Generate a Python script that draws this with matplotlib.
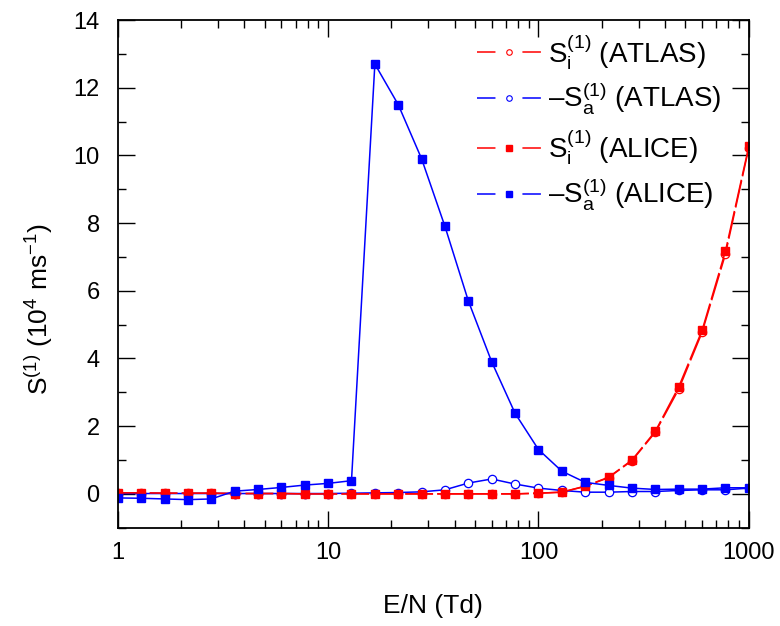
import numpy as np
import matplotlib
matplotlib.use('Agg')
import matplotlib.pyplot as plt
from matplotlib.lines import Line2D

plt.rcParams['font.family'] = ['Liberation Sans', 'DejaVu Sans']
plt.rcParams['mathtext.fontset'] = 'custom'
plt.rcParams['mathtext.rm'] = 'Liberation Sans'
plt.rcParams['mathtext.it'] = 'Liberation Sans'
plt.rcParams['mathtext.default'] = 'regular'
plt.rcParams['lines.scale_dashes'] = False

# E/N grid, 9 points per decade
en = 10 ** (np.arange(28) / 9.0)

si_atlas = [0.03, 0.03, 0.02, 0.02, 0.02, 0.01, 0.01, 0.01, 0.0, 0.0,
            0.0, 0.0, 0.0, 0.0, 0.0, 0.0, 0.0, 0.0, 0.02, 0.05,
            0.22, 0.48, 0.98, 1.82, 3.09, 4.77, 7.08, 10.22]
sa_atlas = [0.01, 0.01, 0.01, 0.01, 0.01, 0.01, 0.01, 0.01, 0.01, 0.01,
            0.02, 0.03, 0.04, 0.06, 0.12, 0.32, 0.44, 0.29, 0.17, 0.10,
            0.05, 0.05, 0.07, 0.07, 0.10, 0.12, 0.12, 0.17]
si_alice = [0.03, 0.03, 0.02, 0.02, 0.02, 0.01, 0.01, 0.01, 0.0, 0.0,
            0.0, 0.0, 0.0, 0.0, 0.0, 0.0, 0.0, 0.0, 0.02, 0.05,
            0.23, 0.49, 1.0, 1.85, 3.16, 4.83, 7.17, 10.27]
sa_alice = [-0.12, -0.13, -0.15, -0.17, -0.15, 0.08, 0.13, 0.19, 0.26, 0.31,
            0.39, 12.7, 11.5, 9.9, 7.9, 5.7, 3.9, 2.38, 1.31, 0.67,
            0.34, 0.25, 0.17, 0.13, 0.14, 0.14, 0.18, 0.18]

labels = ['S$_i^{(1)}$ (ATLAS)', '\u2013S$_a^{(1)}$ (ATLAS)',
          'S$_i^{(1)}$ (ALICE)', '\u2013S$_a^{(1)}$ (ALICE)']
red = '#ff0000'
blue = '#0000ff'

fig = plt.figure(figsize=(7.8, 6.26), dpi=100)
ax = fig.add_axes([0.151, 0.157, 0.809, 0.811])

lw = 1.1
ax.plot(en, si_atlas, color=red, lw=lw, dashes=(20, 3), marker='o', ms=6,
        mfc='white', mec=red, mew=0.9)
ax.plot(en, sa_atlas, color=blue, lw=lw, marker='o', ms=6,
        mfc='white', mec=blue, mew=0.9)
ax.plot(en, si_alice, color=red, lw=lw, dashes=(20, 3), marker='s', ms=5.5,
        mfc=red, mec=red)
ax.plot(en, sa_alice, color=blue, lw=lw, marker='s', ms=5.5,
        mfc=blue, mec=blue)

ax.set_xscale('log')
ax.set_xlim(1, 1000)
ax.set_ylim(-1, 14)
ax.set_yticks(np.arange(0, 15, 2))
ax.set_yticks(np.arange(-1, 14, 1), minor=True)
ax.set_xticks([1, 10, 100, 1000])
ax.set_xticklabels(['1', '10', '100', '1000'])

ax.tick_params(which='both', direction='in', top=True, right=True, width=1)
ax.tick_params(which='major', length=12, labelsize=17)
ax.tick_params(axis='y', which='major', pad=13)
ax.tick_params(axis='x', which='major', pad=10)
ax.tick_params(which='minor', length=6)
for s in ax.spines.values():
    s.set_linewidth(1.3)

ax.set_xlabel('E/N (Td)', fontsize=19, labelpad=22)
ax.set_ylabel('S$^{(1)}$ (10$^4$ ms$^{-1}$)', fontsize=19)
ax.yaxis.set_label_coords(-0.10, 0.43)

# legend in the "— o —" style
dash = (0, (13.3, 19.4))
handles = [
    Line2D([], [], color=red, lw=lw, linestyle=dash, marker='o', ms=4,
           mfc='white', mec=red, mew=0.8),
    Line2D([], [], color=blue, lw=lw, linestyle=dash, marker='o', ms=4,
           mfc='white', mec=blue, mew=0.8),
    Line2D([], [], color=red, lw=lw, linestyle=dash, marker='s', ms=4,
           mfc=red, mec=red),
    Line2D([], [], color=blue, lw=lw, linestyle=dash, marker='s', ms=4,
           mfc=blue, mec=blue),
]
ax.legend(handles, labels, loc='upper left', bbox_to_anchor=(0.547, 1.004),
          frameon=False, fontsize=20, handlelength=2.3, handletextpad=0.25,
          labelspacing=0.35, borderpad=0, numpoints=1)

fig.savefig('out.png', dpi=100)
